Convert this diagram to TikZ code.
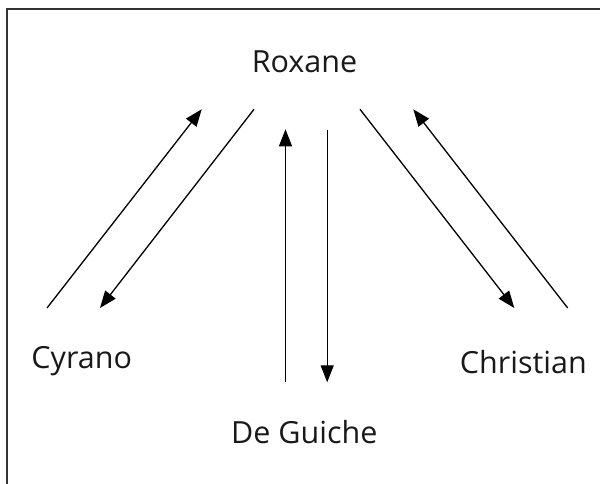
\documentclass[tikz,border=0pt]{standalone}
\usepackage{fontspec}
\setmainfont{Open Sans}
\usetikzlibrary{arrows.meta}

\begin{document}
\begin{tikzpicture}[x=1pt,y=-1pt,
  person/.style={anchor=base,font=\fontsize{30.5}{36}\selectfont,text=black!90},
  link/.style={line width=1.3pt,-{Triangle[length=17pt,width=13pt]}}]

  \useasboundingbox (0,0) rectangle (600,484);
  \draw[line width=2pt,black!80] (6.5,490) |- (606,9.5);

  \draw (304.5,73) node[person] (roxane) {Roxane};
\draw (81.7,368.3) node[person] (cyrano) {Cyrano};
\draw (523.3,373.3) node[person] (christian) {Christian};
\draw (304.3,443.3) node[person] (guiche) {De Guiche};

  % ends of the arrows
  \coordinate (c1) at (47,308);   \coordinate (r1) at (201.7,109.3);
  \coordinate (r2) at (254,109.3); \coordinate (c2) at (100,308);
  \coordinate (g1) at (285.5,381.7); \coordinate (r3) at (285.5,129.3);
  \coordinate (r4) at (327.2,130); \coordinate (g2) at (327.2,382.3);
  \coordinate (r5) at (360,109.3); \coordinate (h1) at (514.3,308);
  \coordinate (h2) at (567.7,308); \coordinate (r6) at (413.3,109.3);

  \draw[link] (c1) -- (r1);
  \draw[link] (r2) -- (c2);
  \draw[link] (g1) -- (r3);
  \draw[link] (r4) -- (g2);
  \draw[link] (r5) -- (h1);
  \draw[link] (h2) -- (r6);

\end{tikzpicture}
\end{document}
